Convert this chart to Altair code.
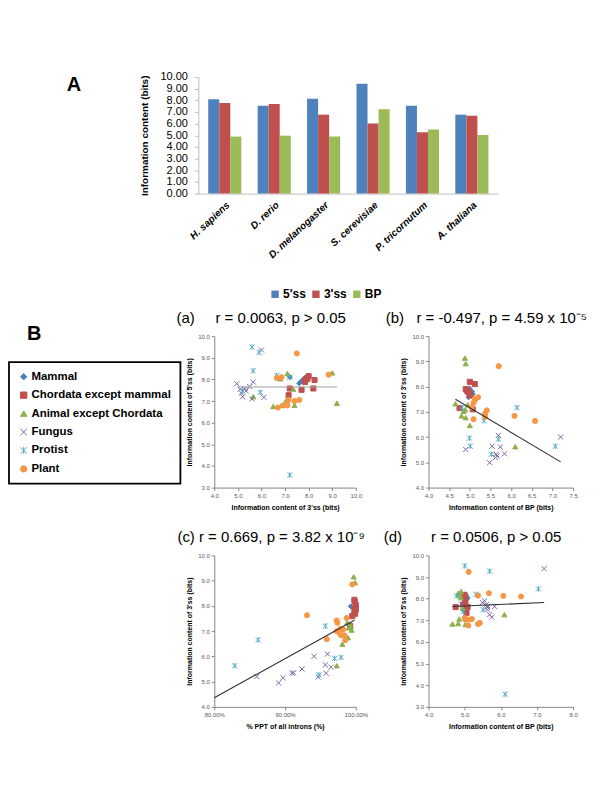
import altair as alt
import pandas as pd

FONT = "Liberation Sans"

# ---------------- Panel A: bar chart ----------------
SPECIES = ["H. sapiens", "D. rerio", "D. melanogaster", "S. cerevisiae", "P. tricornutum", "A. thaliana"]
SITES = ["5'ss", "3'ss", "BP"]
IC_5SS = [8.10, 7.54, 8.14, 9.42, 7.54, 6.77]
IC_3SS = [7.77, 7.69, 6.77, 6.02, 5.26, 6.68]
IC_BP = [4.89, 4.97, 4.89, 7.23, 5.50, 5.03]
BAR_COLORS = ["#4F81BD", "#C0504D", "#9BBB59"]
BAR_TICKS = [0, 1, 2, 3, 4, 5, 6, 7, 8, 9, 10]

# ---------------- Panel B: scatter plots ----------------
GROUPS = ["Mammal", "Chordata except mammal", "Animal except Chordata", "Fungus", "Protist", "Plant"]
GROUP_COLORS = ["#4A7EBB", "#C0504D", "#8DB04A", "#8064A2", "#4BACC6", "#F79646"]
GROUP_FILLS = ["#4A7EBB", "#C0504D", "#8DB04A", "transparent", "transparent", "#F79646"]
X_PATH = "M-1,-1L1,1M-1,1L1,-1"
STAR_PATH = "M-1,-1L1,1M-1,1L1,-1M0,-1.1L0,1.1"
GROUP_SHAPES = ["diamond", "square", "triangle-up", X_PATH, STAR_PATH, "circle"]

# (a) x = IC of 3'ss, y = IC of 5'ss
A_MAMMAL = [(7.6, 7.82), (7.7, 7.93), (7.85, 8.08), (7.95, 8.15), (7.2, 8.1)]
A_CHORDATA = [(7.2, 7.58), (7.15, 7.27), (7.7, 7.52), (7.85, 7.88), (7.95, 8.03), (8.0, 8.15),
              (8.25, 7.97), (8.2, 7.58), (7.85, 7.98)]
A_ANIMAL = [(5.65, 7.2), (6.5, 6.75), (6.85, 6.8), (7.1, 8.27), (6.8, 8.03), (7.35, 7.55),
            (7.4, 6.8), (9.0, 8.3), (9.2, 6.9), (7.05, 7.03)]
A_FUNGUS = [(4.95, 7.8), (6.0, 9.36), (5.65, 7.88), (5.5, 7.67), (5.3, 7.58), (5.1, 7.55),
            (5.2, 7.2), (5.6, 7.1), (6.1, 7.17), (5.15, 7.37), (5.35, 7.47)]
A_PROTIST = [(5.6, 9.5), (5.9, 9.25), (5.65, 8.4), (5.95, 7.4), (5.2, 7.47), (6.65, 8.18),
             (7.2, 8.1), (7.2, 3.58)]
A_PLANT = [(7.5, 9.2), (6.65, 8.07), (6.85, 8.1), (6.7, 6.7), (7.0, 6.82), (7.1, 6.8),
           (7.15, 7.05), (7.4, 7.0), (7.6, 7.05), (8.85, 8.22), (6.95, 6.8)]
A_LINE = [(5.0, 7.65), (9.2, 7.65)]

# (b) x = IC of BP, y = IC of 3'ss
B_MAMMAL = [(4.99, 7.93), (5.05, 7.8), (4.97, 7.58), (5.07, 7.71)]
B_CHORDATA = [(5.0, 8.19), (5.12, 8.1), (4.9, 7.9), (4.95, 7.8), (5.0, 7.65), (4.75, 7.15),
              (5.07, 7.1), (4.93, 7.85), (4.99, 7.75)]
B_ANIMAL = [(4.88, 9.13), (4.9, 8.91), (4.65, 7.32), (4.8, 6.84), (4.9, 6.77), (5.0, 6.46),
            (4.89, 7.09), (4.95, 7.28), (4.85, 7.02), (6.1, 5.62)]
B_FUNGUS = [(4.9, 5.51), (5.54, 5.64), (5.69, 6.07), (5.74, 5.61), (5.84, 5.34), (5.64, 5.32),
            (5.62, 5.19), (5.66, 5.25), (5.48, 4.99), (7.2, 6.0)]
B_PROTIST = [(4.81, 7.17), (4.99, 5.96), (5.01, 5.64), (5.34, 6.65), (6.14, 7.17), (5.52, 5.32),
             (5.69, 5.92), (7.07, 5.64)]
B_PLANT = [(5.7, 8.81), (5.2, 7.58), (5.13, 7.48), (5.09, 7.36), (5.09, 6.71), (5.41, 7.06),
           (5.37, 6.93), (5.37, 6.8), (6.08, 6.84), (6.58, 6.64), (5.04, 7.18), (5.12, 7.52)]
B_LINE = [(4.65, 7.5), (7.2, 5.02)]

# (c) x = % PPT of all introns, y = IC of 3'ss
C_MAMMAL = [(0.993, 7.98), (0.995, 7.65), (0.998, 7.78), (0.9985, 7.9)]
C_CHORDATA = [(0.9985, 8.17), (1.0, 8.04), (0.998, 7.87), (0.9985, 7.69), (0.995, 7.59),
              (0.992, 7.2), (1.0, 7.85), (0.998, 8.24), (0.999, 7.7)]
C_ANIMAL = [(0.997, 9.15), (0.999, 8.92), (0.973, 5.63), (0.981, 6.48), (0.989, 6.74),
            (0.993, 7.2), (0.988, 7.33), (0.994, 7.04), (0.990, 7.13), (0.981, 6.83)]
C_FUNGUS = [(0.860, 5.2), (0.891, 4.95), (0.897, 5.15), (0.910, 5.33), (0.912, 5.35),
            (0.924, 5.5), (0.941, 6.0), (0.960, 6.09), (0.957, 5.66), (0.965, 5.57),
            (0.958, 5.33), (0.947, 5.18)]
C_PROTIST = [(0.829, 5.63), (0.862, 6.65), (0.957, 7.2), (0.948, 5.27), (0.970, 5.92), (0.979, 5.96)]
C_PLANT = [(0.931, 7.63), (0.995, 8.85), (0.987, 7.52), (0.973, 7.42), (0.974, 7.33),
           (0.959, 6.68), (0.973, 7.0), (0.978, 7.09), (0.978, 6.87), (0.984, 6.83),
           (0.985, 6.64), (0.982, 7.06)]
C_LINE = [(0.80, 4.36), (0.998, 7.43)]

# (d) x = IC of BP, y = IC of 5'ss
D_MAMMAL = [(5.02, 8.2), (5.05, 8.1), (4.99, 7.95), (5.08, 8.02)]
D_CHORDATA = [(4.75, 7.61), (5.0, 8.02), (5.02, 7.87), (4.96, 7.72), (5.08, 7.61), (5.05, 7.34),
              (5.0, 7.52), (4.99, 8.17)]
D_ANIMAL = [(4.66, 6.83), (4.82, 6.85), (4.85, 7.06), (5.02, 6.8), (6.1, 7.26), (4.9, 8.33),
            (4.87, 8.17), (4.89, 8.05), (4.94, 7.56), (4.82, 8.25)]
D_FUNGUS = [(7.2, 9.39), (5.49, 7.82), (5.55, 7.9), (5.64, 7.64), (5.63, 7.49), (5.83, 7.64),
            (5.69, 7.26), (5.75, 7.15), (5.63, 7.6), (4.91, 7.75), (5.6, 7.72)]
D_PROTIST = [(5.0, 9.51), (5.69, 9.27), (7.04, 8.45), (5.31, 8.2), (4.78, 8.13), (5.51, 7.49),
             (4.96, 7.41), (6.12, 3.58)]
D_PLANT = [(5.11, 9.24), (5.37, 8.14), (5.67, 8.25), (6.07, 8.13), (6.56, 8.1), (5.0, 7.11),
           (5.11, 7.03), (5.2, 7.06), (5.1, 6.76), (5.37, 6.83), (5.42, 6.88), (5.02, 7.03)]
D_LINE = [(4.66, 7.64), (7.2, 7.82)]

TITLE_A = "(a)\u00a0\u00a0\u00a0\u00a0\u00a0r = 0.0063, p > 0.05"
TITLE_B = "(b)\u00a0\u00a0\u00a0r = -0.497, p = 4.59 x 10\u207b\u2075"
TITLE_C = "(c)\u00a0r = 0.669, p = 3.82 x 10\u207b\u2079"
TITLE_D = "(d)\u00a0\u00a0\u00a0\u00a0\u00a0\u00a0\u00a0r = 0.0506, p > 0.05"

# ---------------- build panel A ----------------
bar_df = pd.DataFrame({
    "species": [s for s in SPECIES for _ in SITES],
    "site": SITES * len(SPECIES),
    "value": [v for trip in zip(IC_5SS, IC_3SS, IC_BP) for v in trip],
})

bars = alt.Chart(bar_df).mark_bar().encode(
    x=alt.X("species:N", sort=SPECIES,
            scale=alt.Scale(paddingInner=0.33, paddingOuter=0.2),
            axis=alt.Axis(title=None, labelAngle=317, labelFontStyle="italic", labelFontWeight="bold",
                          labelFontSize=10, labelColor="black", labelFont=FONT, domainColor="#BFBFBF",
                          ticks=False, labelPadding=6)),
    xOffset=alt.XOffset("site:N", sort=SITES),
    y=alt.Y("value:Q", scale=alt.Scale(domain=[0, 10], nice=False),
            axis=alt.Axis(title="Information content (bits)", values=BAR_TICKS, format=".2f", grid=False,
                          labelFontSize=11, labelColor="black", labelFont=FONT, titleFont=FONT,
                          titleFontSize=10, titleFontWeight="bold", titleColor="black",
                          domainColor="#BFBFBF", tickColor="#BFBFBF", tickSize=4, labelPadding=7,
                          titlePadding=10)),
    color=alt.Color("site:N", sort=SITES, scale=alt.Scale(domain=SITES, range=BAR_COLORS),
                    legend=alt.Legend(title=None, orient="none", legendX=71, legendY=212,
                                      direction="horizontal", symbolType="square", symbolSize=55,
                                      symbolStrokeWidth=0, labelFontSize=12, labelFontWeight="bold",
                                      labelFont=FONT, labelColor="black", columnPadding=4, padding=0,
                                      labelOffset=2)),
).properties(width=301, height=117)


# ---------------- build panel B ----------------
def frame(groups_pts):
    rows = []
    for g, pts in zip(GROUPS, groups_pts):
        for x, y in pts:
            rows.append({"x": x, "y": y, "group": g})
    return pd.DataFrame(rows)


def axis(title, values, fmt):
    return alt.Axis(title=title, values=values, format=fmt, grid=False, labelFontSize=6,
                    labelColor="#595959", labelFont=FONT, titleFont=FONT, titleFontSize=7,
                    titleFontWeight="bold", titleColor="black", domainColor="#868686",
                    tickColor="#868686", tickSize=3, labelPadding=2, titlePadding=5,
                    labelFlush=False, labelOverlap=False)


def panel(groups_pts, line, xdom, xvals, xfmt, xtitle, ydom, yvals, ytitle, title, dx,
          line_color, width, legend):
    xe = alt.X("x:Q", scale=alt.Scale(domain=xdom, nice=False, zero=False), axis=axis(xtitle, xvals, xfmt))
    ye = alt.Y("y:Q", scale=alt.Scale(domain=ydom, nice=False, zero=False), axis=axis(ytitle, yvals, ".1f"))
    pts_layer = alt.Chart(frame(groups_pts)).mark_point(filled=False, size=26, strokeWidth=1, opacity=1).encode(
        x=xe, y=ye,
        shape=alt.Shape("group:N", scale=alt.Scale(domain=GROUPS, range=GROUP_SHAPES), legend=legend),
        fill=alt.Fill("group:N", scale=alt.Scale(domain=GROUPS, range=GROUP_FILLS), legend=legend),
        stroke=alt.Stroke("group:N", scale=alt.Scale(domain=GROUPS, range=GROUP_COLORS), legend=legend),
    )
    line_df = pd.DataFrame({"x": [p[0] for p in line], "y": [p[1] for p in line]})
    line_layer = alt.Chart(line_df).mark_line(color=line_color, strokeWidth=1.1).encode(x=xe, y=ye)
    return alt.layer(pts_layer, line_layer).properties(
        width=width, height=152,
        title=alt.TitleParams(title, anchor="start", frame="group", dx=dx, dy=12, offset=7,
                              baseline="alphabetic", fontSize=15, fontWeight="normal", font=FONT,
                              color="black"),
    )


def spacer(letter, dx, dy):
    return alt.Chart(pd.DataFrame({"s": [0]})).mark_point(opacity=0).encode(
        x=alt.X("s:Q", axis=None), y=alt.Y("s:Q", axis=None)
    ).properties(
        width=1, height=1,
        title=alt.TitleParams(letter, anchor="start", frame="group", dx=dx, dy=dy, offset=0,
                              baseline="alphabetic", fontSize=20, fontWeight="bold", font=FONT,
                              color="black"),
    )


LEGEND_B = alt.Legend(title=None, orient="none", legendX=-206, legendY=26, strokeColor="black",
                      fillColor="white", padding=9, labelFontSize=11.5,
                      labelFontWeight="bold", labelFont=FONT, labelColor="black", rowPadding=5.5,
                      symbolSize=40, symbolStrokeWidth=1, labelOffset=2)

pa = panel([A_MAMMAL, A_CHORDATA, A_ANIMAL, A_FUNGUS, A_PROTIST, A_PLANT], A_LINE,
           [4, 10], [4, 5, 6, 7, 8, 9, 10], ".1f", "Information content of 3'ss (bits)",
           [3, 10], [3, 4, 5, 6, 7, 8, 9, 10], "Information content of 5'ss (bits)",
           TITLE_A, -38, "#A0A0A0", 142, LEGEND_B)
pb = panel([B_MAMMAL, B_CHORDATA, B_ANIMAL, B_FUNGUS, B_PROTIST, B_PLANT], B_LINE,
           [4, 7.5], [4, 4.5, 5, 5.5, 6, 6.5, 7, 7.5], ".1f", "Information content of BP (bits)",
           [4, 10], [4, 5, 6, 7, 8, 9, 10], "Information content of 3'ss (bits)",
           TITLE_B, -43, "#303030", 145, None)
pc = panel([C_MAMMAL, C_CHORDATA, C_ANIMAL, C_FUNGUS, C_PROTIST, C_PLANT], C_LINE,
           [0.8, 1.0], [0.8, 0.9, 1.0], ".2%", "% PPT of all introns (%)",
           [4, 10], [4, 5, 6, 7, 8, 9, 10], "Information content of 3'ss (bits)",
           TITLE_C, -37, "#303030", 142, None)
pd_ = panel([D_MAMMAL, D_CHORDATA, D_ANIMAL, D_FUNGUS, D_PROTIST, D_PLANT], D_LINE,
            [4, 8], [4, 5, 6, 7, 8], ".1f", "Information content of BP (bits)",
            [3, 10], [3, 4, 5, 6, 7, 8, 9, 10], "Information content of 5'ss (bits)",
            TITLE_D, -45, "#303030", 145, None)

IND = dict(shape="independent", fill="independent", stroke="independent", color="independent")


def hc(*charts, spacing):
    return alt.hconcat(*charts, spacing=spacing, bounds="flush").resolve_scale(**IND).resolve_legend(**IND)


def vc(*charts, spacing):
    return alt.vconcat(*charts, spacing=spacing, bounds="flush").resolve_scale(**IND).resolve_legend(**IND)


top_row = hc(pa, pb, spacing=73)
bot_row = hc(pc, pd_, spacing=73)
grid = vc(top_row, bot_row, spacing=220)

row1 = hc(spacer("A", -81, 36), bars, spacing=50)
row2 = hc(spacer("B", -121, 26), grid, spacing=66)

chart = vc(row1, row2, spacing=260).properties(
    padding={"left": 0, "top": 62, "right": 4, "bottom": 4}
).configure(font=FONT).configure_view(stroke=None).configure_legend(strokeWidth=1.8)

chart.save("out.html", embed_options={"renderer": "svg", "actions": False})
